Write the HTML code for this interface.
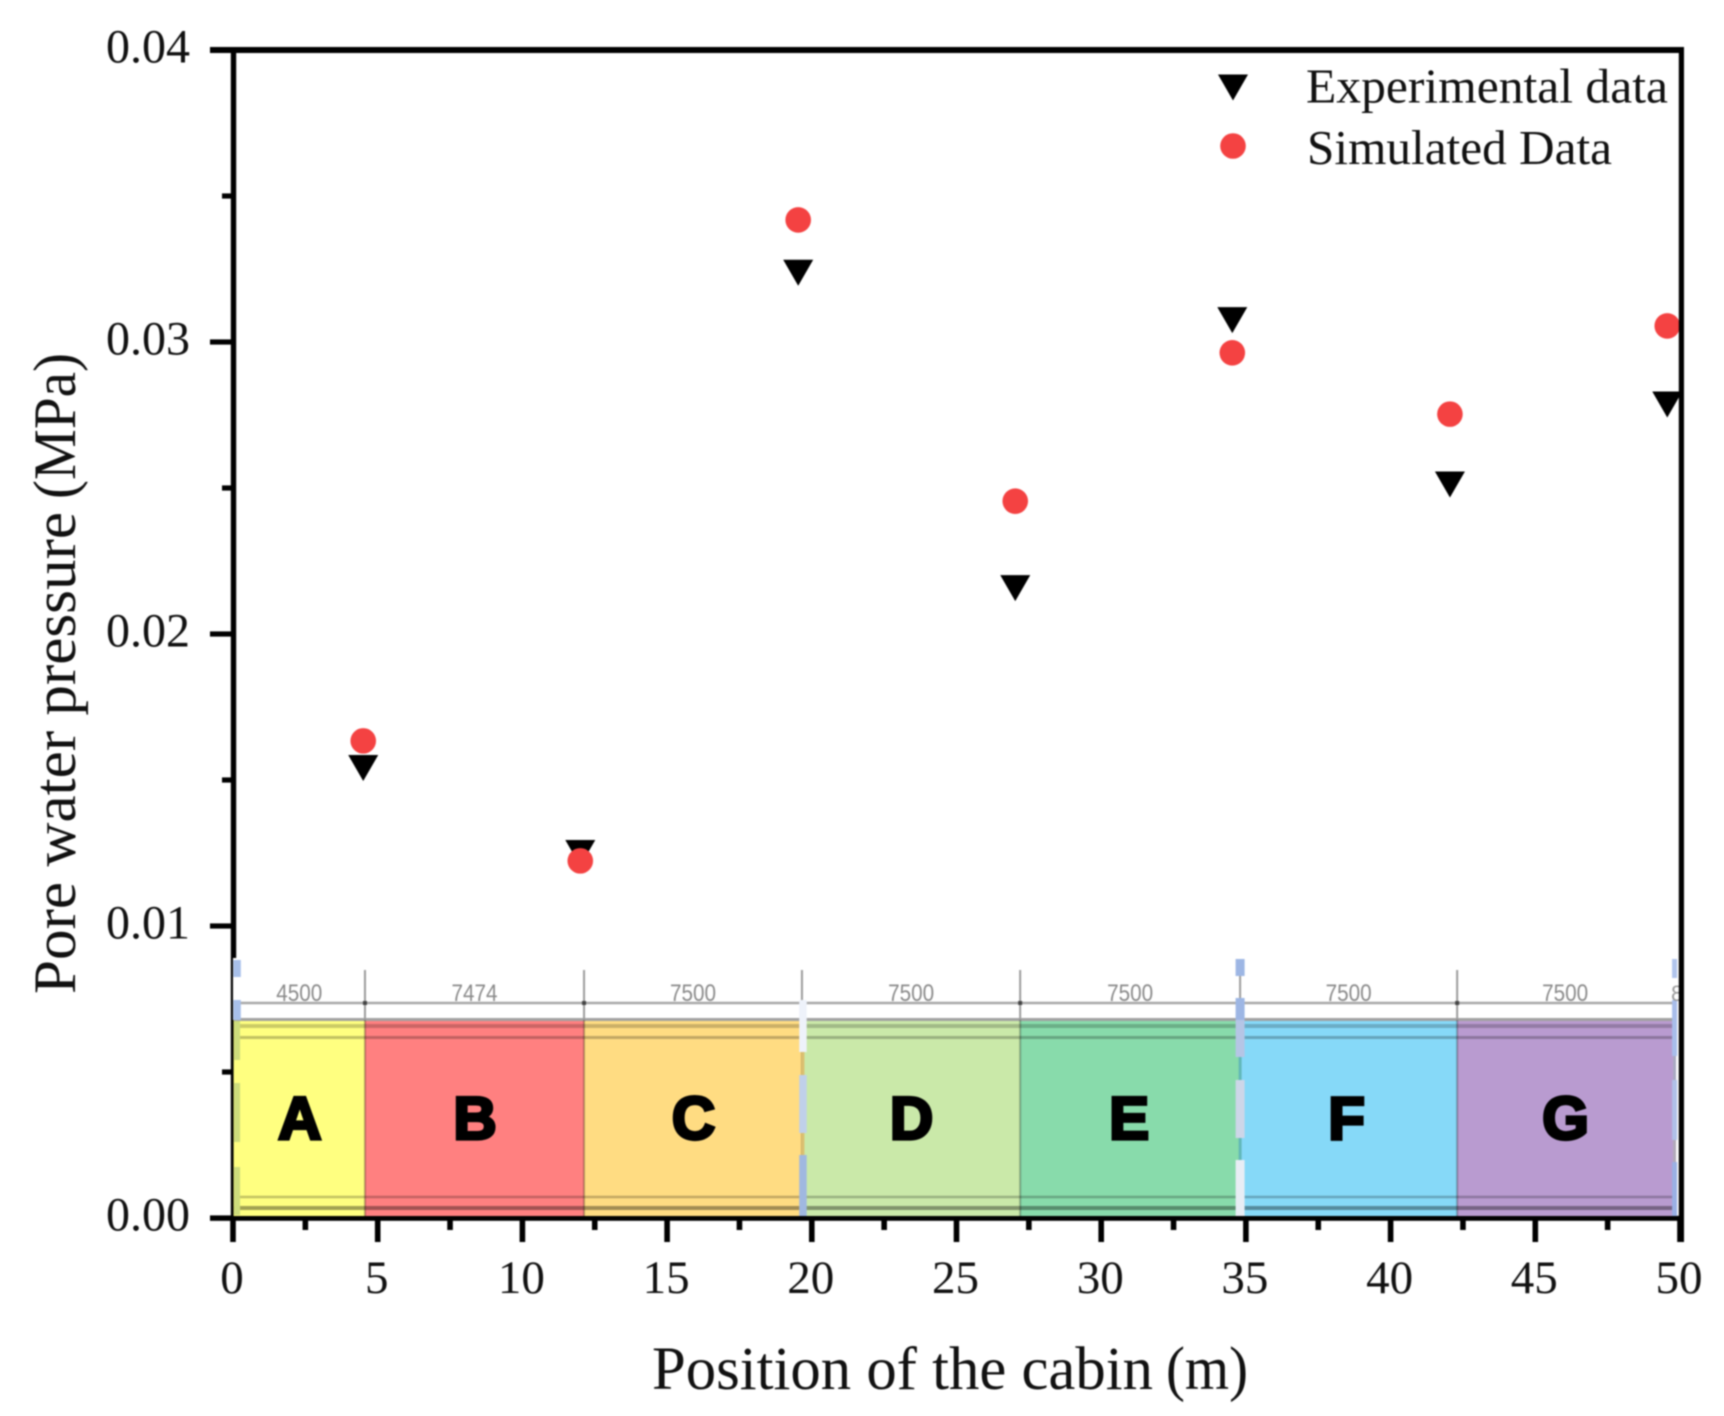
<!DOCTYPE html>
<html lang="en">
<head>
<meta charset="utf-8">
<title>Pore water pressure along the cabin</title>
<style>
html,body{margin:0;padding:0;background:#fff;}
#chart{display:block;width:1724px;height:1416px;filter:blur(0.75px);}
text{font-family:"Liberation Serif",serif;fill:#111;}
</style>
</head>
<body>
<svg id="chart" xmlns="http://www.w3.org/2000/svg" width="1724" height="1416" viewBox="0 0 1724 1416"></svg>
<script>
// ---- data ----
const positions = [4.5, 12.0, 19.53, 27.03, 34.53, 42.05, 49.56];
const experimental = [0.01541, 0.0125, 0.03237, 0.02157, 0.03075, 0.02512, 0.02786];
const simulated = [0.01634, 0.01223, 0.03418, 0.02455, 0.02963, 0.02753, 0.03055];
const xTicks = [0, 5, 10, 15, 20, 25, 30, 35, 40, 45, 50];
const xMinorTicks = [2.5, 7.5, 12.5, 17.5, 22.5, 27.5, 32.5, 37.5, 42.5, 47.5];
const yTicks = ['0.00', '0.01', '0.02', '0.03', '0.04'];
const yMinorTicks = [0.005, 0.015, 0.025, 0.035];
const zoneEdges = [0.02, 4.56, 12.13, 19.66, 27.2, 34.8, 42.3, 49.76];
const zoneNames = ['A', 'B', 'C', 'D', 'E', 'F', 'G'];
const zoneLengths = ['4500', '7474', '7500', '7500', '7500', '7500', '7500'];
const zoneColors = ['#ffff80', '#ff8080', '#ffdc82', '#cae9a9', '#88dbab', '#86d9f8', '#b99bd0'];

// ---- axis functions ----
const X0 = 233, X1 = 1680, Y0 = 1218, Y1 = 50;
const xScale = v => X0 + (v / 50) * (X1 - X0);
const yScale = v => Y0 - (v / 0.04) * (Y0 - Y1);

const svg = document.getElementById('chart');
const NS = 'http://www.w3.org/2000/svg';
function make(tag, attrs, text) {
  const el = document.createElementNS(NS, tag);
  for (const k in attrs) el.setAttribute(k, attrs[k]);
  if (text !== undefined) el.textContent = text;
  svg.appendChild(el);
  return el;
}
let el;

// ---- axes (left and bottom, partly covered by the schematic) ----
el = make('rect', {x: 230.8, y: 47, width: 5.4, height: 1173, fill: '#000'});


el = make('rect', {x: 210, y: 1215.8, width: 1474, height: 5, fill: '#000'});


el = make('rect', {x: 210, y: 47, width: 1474, height: 6, fill: '#000'});



yTicks.forEach(t => {
  const y = yScale(parseFloat(t));
  el = make('rect', {x: 210, y: y - 2.6, width: 22, height: 5.2, fill: '#000'});
  
  
  el = make('text', {x: 190, y: y + 12.5, 'text-anchor': 'end', 'font-size': 48}, t);
  
  
});
yMinorTicks.forEach(t => {
  el = make('rect', {x: 222, y: yScale(t) - 2.6, width: 10, height: 5.2, fill: '#000'});
  
  
});
xTicks.forEach(t => {
  const x = xScale(t);
  el = make('rect', {x: x - 2.8, y: 1218, width: 5.6, height: 24, fill: '#000'});
  
  
  el = make('text', {x: x - 1, y: 1293, 'text-anchor': 'middle', 'font-size': 47}, String(t));
  
  
});
xMinorTicks.forEach(t => {
  el = make('rect', {x: xScale(t) - 2.8, y: 1218, width: 5.6, height: 12, fill: '#000'});
  
  
});

// ---- cabin schematic ----
el = make('rect', {x: X0, y: 958, width: 1445, height: 62, fill: '#fff'});



zoneNames.forEach((name, i) => {
  const a = xScale(zoneEdges[i]), b = xScale(zoneEdges[i + 1]);
  el = make('rect', {x: a, y: 1020, width: b - a, height: 196, fill: zoneColors[i]});
  
  
  el = make('text', {x: (a + b) / 2 + (name === 'F' ? -2 : name === 'E' ? -1 : 0.5), y: 1139, 'text-anchor': 'middle', 'font-size': 60,
    'font-weight': 700, 'stroke': '#000', 'stroke-width': 3.2,
    style: 'font-family:"Liberation Sans",sans-serif;fill:#000;'}, name);
  
  
  el = make('text', {x: (a + b) / 2, y: 1001, 'text-anchor': 'middle', 'font-size': 24, textLength: 46,
    lengthAdjust: 'spacingAndGlyphs',
    style: 'font-family:"Liberation Sans",sans-serif;fill:#8a8a8a;'}, zoneLengths[i]);
  
  
});

// horizontal stripes across the schematic
[[1003, 2.5, '#a8a8a8'], [1019.5, 3, '#a2a2a2'],
 [1026, 4, 'rgba(0,0,0,.2)'], [1037.5, 3, 'rgba(0,0,0,.24)'],
 [1197, 2.5, 'rgba(0,0,0,.24)'], [1208, 4, 'rgba(0,0,0,.36)']].forEach(s => {
  el = make('rect', {x: X0 + 1, y: s[0] - s[1] / 2, width: xScale(zoneEdges[7]) - X0 - 1, height: s[1], fill: s[2]});
  
  
});

// zone dividers and extension lines
zoneEdges.slice(1, 7).forEach(e => {
  const x = xScale(e);
  el = make('rect', {x: x - 1, y: 970, width: 2, height: 50, fill: '#9c9c9c'});
  
  
  el = make('rect', {x: x - 1, y: 1020, width: 2, height: 196, fill: 'rgba(0,0,0,.28)'});
  
  
  el = make('rect', {x: x - 2, y: 1001, width: 4, height: 4, fill: '#444'});
  
  
});

// dashed blue section markers (fourth span value is an optional narrower width)
function dashes(edge, width, offset, spans) {
  spans.forEach(s => {
    const w = s[3] || width;
    el = make('rect', {x: xScale(edge) + offset - w / 2, y: s[0], width: w, height: s[1] - s[0], fill: s[2]});
    
    
  });
}
dashes(zoneEdges[0], 6, 3.5, [[960, 977, '#a8c0ea', 7.5], [1000, 1020, '#a8c0ea', 7.5],
  [1021, 1060, '#cddc7c'], [1083, 1142, '#cddc7c'], [1167, 1215, '#cddc7c']]);
dashes(zoneEdges[3], 7.5, 1, [[1000, 1052, '#eef2fa'], [1052, 1075, '#dcc070', 3], [1075, 1133, '#c0d0ea'],
  [1133, 1155, '#dcc070', 3], [1155, 1216, '#a0b8e0']]);
dashes(zoneEdges[5], 9, 0, [[959, 976, '#9db6e4'], [998, 1020, '#9db6e4'], [1020, 1057, '#b5c5e5'],
  [1057, 1080, '#62b8b8', 3], [1080, 1138, '#cdd6e8'], [1138, 1160, '#62b8b8', 3], [1160, 1216, '#e8edf5']]);
dashes(zoneEdges[7], 5, 1.5, [[959, 978, '#b0c4ec'], [1000, 1056, '#a8bdea'], [1056, 1080, '#a8a8c0', 3],
  [1080, 1140, '#b0c0e8'], [1140, 1162, '#b0a8b8', 3], [1162, 1216, '#9ab0e4']]);
el = make('text', {x: 1671, y: 1001, 'font-size': 22,
  style: 'font-family:"Liberation Sans",sans-serif;fill:#999;'}, '8');



// ---- series ----
function triangle(cx, cy) {
  return (cx - 15) + ',' + (cy - 13) + ' ' + (cx + 15) + ',' + (cy - 13) + ' ' + cx + ',' + (cy + 13);
}
positions.forEach((p, i) => {
  el = make('polygon', {points: triangle(xScale(p), yScale(experimental[i])), fill: '#000'});
  
  
});
positions.forEach((p, i) => {
  el = make('circle', {cx: xScale(p), cy: yScale(simulated[i]), r: 12.8, fill: '#f44242'});
  
  
});

// right frame drawn over markers
el = make('rect', {x: 1678.8, y: 47, width: 5.2, height: 1173, fill: '#000'});


el = make('rect', {x: 1678.8, y: 1218, width: 5.2, height: 24, fill: '#000'});



// ---- legend ----
el = make('polygon', {points: triangle(1233, 87.5), fill: '#000'});


el = make('circle', {cx: 1233, cy: 146, r: 12.8, fill: '#f44242'});


el = make('text', {x: 1306, y: 102.5, 'font-size': 49, textLength: 362, lengthAdjust: 'spacingAndGlyphs'}, 'Experimental data');


el = make('text', {x: 1307, y: 164, 'font-size': 49, textLength: 305, lengthAdjust: 'spacingAndGlyphs'}, 'Simulated Data');



// ---- axis titles ----
el = make('text', {x: 652, y: 1389, 'font-size': 61, textLength: 501, lengthAdjust: 'spacingAndGlyphs'}, 'Position of the cabin');


el = make('text', {x: 1166, y: 1389, 'font-size': 61, textLength: 82, lengthAdjust: 'spacingAndGlyphs'}, '(m)');


el = make('text', {x: 0, y: 0, 'font-size': 60, textLength: 482, lengthAdjust: 'spacingAndGlyphs',
  transform: 'translate(75,994) rotate(-90)'}, 'Pore water pressure');


el = make('text', {x: 0, y: 0, 'font-size': 60, textLength: 146, lengthAdjust: 'spacingAndGlyphs',
  transform: 'translate(75,499) rotate(-90)'}, '(MPa)');


</script>
</body>
</html>
